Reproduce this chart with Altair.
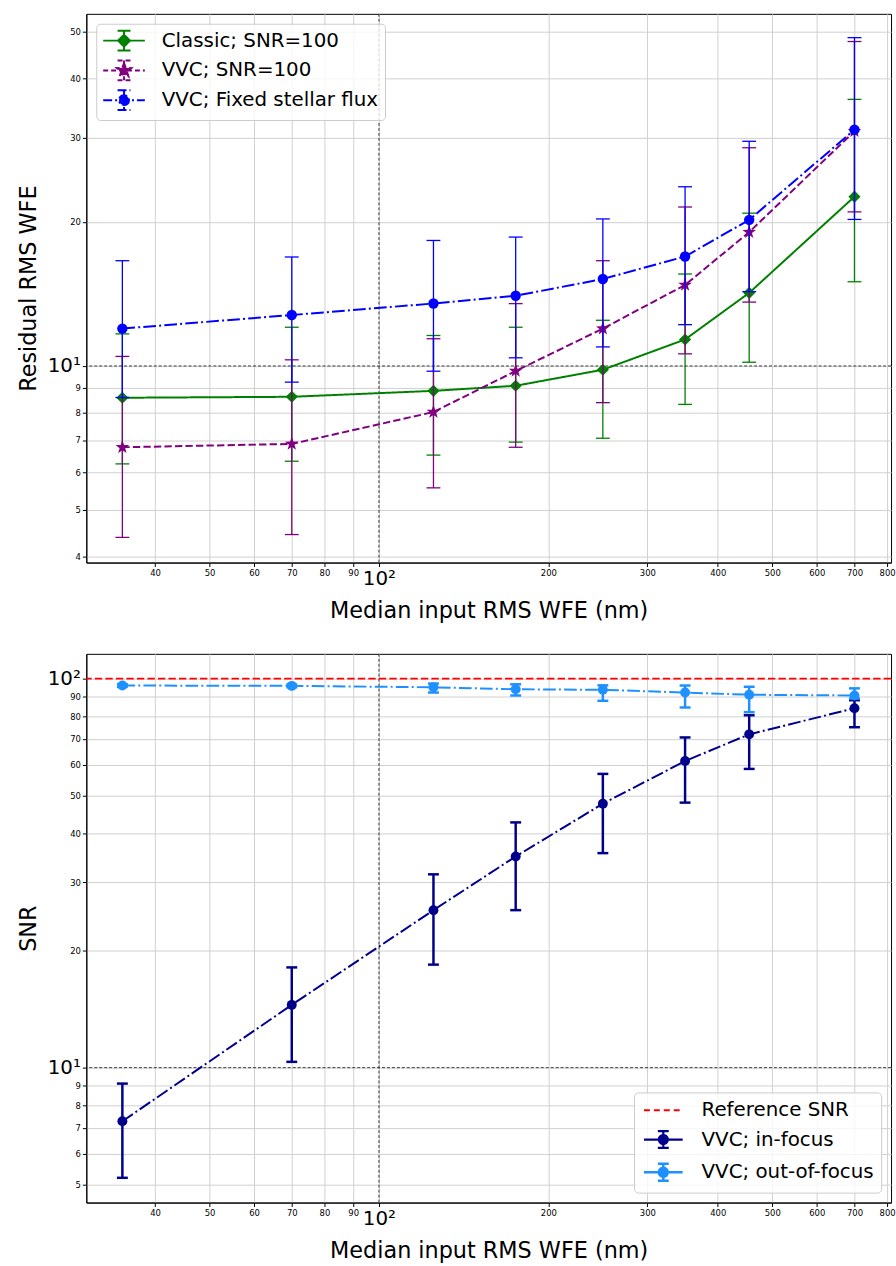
import math
import altair as alt
import pandas as pd

# Median input RMS wavefront error (nm) for each simulation bin
wfe_nm = [35, 70, 125, 175, 250, 350, 455, 700]

# Upper panel: residual RMS WFE (median and spread)
classic_snr100 = [8.58, 8.62, 8.87, 9.09, 9.82, 11.36, 14.22, 22.6]
classic_snr100_lo = [6.24, 6.32, 6.51, 6.93, 7.06, 8.31, 10.18, 15.0]
classic_snr100_hi = [11.67, 12.05, 11.58, 12.05, 12.46, 15.57, 20.87, 36.1]

vvc_snr100 = [6.76, 6.87, 8.01, 9.76, 11.97, 14.77, 19.05, 30.97]
vvc_snr100_lo = [4.38, 4.44, 5.56, 6.76, 8.38, 10.6, 13.6, 21.0]
vvc_snr100_hi = [10.47, 10.3, 11.4, 13.5, 16.6, 21.5, 28.6, 47.7]

vvc_fixed = [11.97, 12.78, 13.51, 14.02, 15.2, 16.94, 20.21, 31.2]
vvc_fixed_lo = [8.59, 9.25, 9.75, 10.4, 10.96, 12.2, 14.3, 20.25]
vvc_fixed_hi = [16.6, 16.9, 18.3, 18.6, 20.3, 23.7, 29.5, 48.6]

# Lower panel: SNR for the fixed-flux VVC runs
snr_in = [7.28, 14.5, 25.4, 34.9, 47.7, 61.4, 71.9, 83.9]
snr_in_lo = [5.21, 10.35, 18.4, 25.4, 35.6, 48.0, 58.6, 75.0]
snr_in_hi = [9.1, 18.1, 31.4, 42.7, 56.9, 70.6, 80.5, 88.0]

snr_out = [96.0, 95.8, 95.0, 93.9, 93.6, 92.1, 90.9, 90.5]
snr_out_lo = [95.2, 95.0, 92.1, 90.5, 87.7, 84.3, 82.0, 88.9]
snr_out_hi = [96.8, 96.6, 97.1, 96.7, 96.1, 96.0, 95.3, 94.4]

reference_snr = [100]

top_names = ["Classic; SNR=100", "VVC; SNR=100", "VVC; Fixed stellar flux"]
top_colors = ["green", "purple", "blue"]
bot_names = ["Reference SNR", "VVC; in-focus", "VVC; out-of-focus"]
bot_colors = ["red", "darkblue", "dodgerblue"]

x_ticks = [40, 50, 60, 70, 80, 90, 100, 200, 300, 400, 500, 600, 700, 800]
top_y_ticks = [4, 5, 6, 7, 8, 9, 10, 20, 30, 40, 50]
bot_y_ticks = [5, 6, 7, 8, 9, 10, 20, 30, 40, 50, 60, 70, 80, 90, 100]

x_domain = [30.2, 813]
top_y_domain = [3.88, 54.5]
bot_y_domain = [4.5, 115.8]

DASHED = [7.4, 3.2]
DASHDOT = [12.8, 3.2, 2, 3.2]
SOLID = [1, 0]


def star_path(r_out, r_in):
    pts = []
    for k in range(10):
        r = r_out if k % 2 == 0 else r_in
        ang = math.pi / 2 + k * math.pi / 5
        pts.append((r * math.cos(ang), -r * math.sin(ang)))
    return "M" + "L".join(f"{x:.3f},{y:.3f}" for x, y in pts) + "Z"


def circle_path(r):
    return f"M{r},0A{r},{r} 0 1,1 {-r},0A{r},{r} 0 1,1 {r},0Z"


def series_frame(centers, lows, highs):
    return pd.DataFrame({"wfe": wfe_nm, "value": centers, "lo": lows, "hi": highs})


def label_expr():
    return ("datum.value == 100 ? '10²' : datum.value == 10 ? '10¹' : "
            "format(datum.value, 'd')")


def big_small(test):
    return {"condition": {"test": test, "value": 20}, "value": 8.5}


x_axis = alt.Axis(values=x_ticks, labelExpr=label_expr(),
                  labelFontSize=big_small("datum.value == 100"),
                  labelBaseline="top", title="Median input RMS WFE (nm)",
                  titlePadding=11)
x_scale = alt.Scale(type="log", domain=x_domain, nice=False)


def y_axis(ticks, title):
    return alt.Axis(values=ticks, labelExpr=label_expr(),
                    labelFontSize=big_small("datum.value == 10 || datum.value == 100"),
                    title=title, titlePadding=7)


def series_layers(df, color, dash, shape, size, yscale, yax, err_w, cap, line_w):
    base = alt.Chart(df)
    xenc = alt.X("wfe:Q", scale=x_scale, axis=x_axis)
    y_of = lambda f: alt.Y(f"{f}:Q", scale=yscale, axis=yax)
    bars = base.mark_rule(strokeWidth=err_w, color=color).encode(
        x=xenc, y=y_of("lo"), y2="hi:Q")
    cap_lo = base.mark_tick(orient="horizontal", size=cap, thickness=err_w,
                            color=color, opacity=1).encode(x=xenc, y=y_of("lo"))
    cap_hi = base.mark_tick(orient="horizontal", size=cap, thickness=err_w,
                            color=color, opacity=1).encode(x=xenc, y=y_of("hi"))
    line = base.mark_line(strokeWidth=line_w, color=color, strokeDash=dash).encode(
        x=xenc, y=y_of("value"))
    pts = base.mark_point(filled=True, opacity=1, color=color, shape=shape,
                          size=size).encode(x=xenc, y=y_of("value"))
    return [bars, cap_lo, cap_hi, line, pts]


def legend_layer(names, colors, paths, dashes, widths, orient, row_pad, pad):
    df = pd.DataFrame({"series": names})
    leg = alt.Legend(
        title=None, orient=orient, offset=10, labelFontSize=20, labelLimit=500,
        symbolSize=400, symbolOffset=11, labelOffset=27, rowPadding=row_pad, padding=pad,
        fillColor="rgba(255,255,255,0.8)", strokeColor="#cccccc", cornerRadius=4,
        symbolOpacity=1, labelColor="black",
    )
    return alt.Chart(df).transform_filter("false").mark_point(
        filled=True, opacity=1, size=400).encode(
        shape=alt.Shape("series:N", scale=alt.Scale(domain=names, range=paths),
                        legend=leg, title=None),
        fill=alt.Fill("series:N", scale=alt.Scale(domain=names, range=colors),
                      legend=leg, title=None),
        stroke=alt.Stroke("series:N", scale=alt.Scale(domain=names, range=colors),
                          legend=leg, title=None),
        strokeDash=alt.StrokeDash("series:N", scale=alt.Scale(domain=names, range=dashes),
                                  legend=leg, title=None),
        strokeWidth=alt.StrokeWidth("series:N", scale=alt.Scale(domain=names, range=widths),
                                    legend=leg, title=None),
    )


def guides(yscale, yax):
    gx = alt.Chart(pd.DataFrame({"v": [100]})).mark_rule(
        color="#111111", strokeWidth=0.8, strokeDash=[3, 2]).encode(
        x=alt.X("v:Q", scale=x_scale, axis=x_axis))
    gy = alt.Chart(pd.DataFrame({"v": [10]})).mark_rule(
        color="#111111", strokeWidth=0.8, strokeDash=[3, 2]).encode(
        y=alt.Y("v:Q", scale=yscale, axis=yax))
    return [gx, gy]


# ---------- upper panel ----------
yscale_t = alt.Scale(type="log", domain=top_y_domain, nice=False)
yax_t = y_axis(top_y_ticks, "Residual RMS WFE")

top_layers = guides(yscale_t, yax_t)
top_series = [
    (series_frame(classic_snr100, classic_snr100_lo, classic_snr100_hi),
     top_colors[0], SOLID, "diamond", 150),
    (series_frame(vvc_snr100, vvc_snr100_lo, vvc_snr100_hi),
     top_colors[1], DASHED, star_path(1.0, 0.4), 210),
    (series_frame(vvc_fixed, vvc_fixed_lo, vvc_fixed_hi),
     top_colors[2], DASHDOT, "circle", 110),
]
for df, col, dash, shp, sz in top_series:
    top_layers += series_layers(df, col, dash, shp, sz, yscale_t, yax_t,
                                err_w=1.3, cap=14, line_w=2)

ERR = "M0,-1L0,1M-0.65,-1L0.65,-1M-0.65,1L0.65,1"
top_paths = [
    "M-2.1,0L2.1,0" + ERR + "M0,-0.6L0.6,0L0,0.6L-0.6,0Z",
    "M-2.1,0L2.1,0" + ERR + star_path(0.75, 0.3),
    "M-2.1,0L2.1,0" + ERR + circle_path(0.5),
]
top_layers.append(legend_layer(top_names, top_colors, top_paths,
                               [SOLID, [5, 3], [9, 3, 2, 3]], [2, 2, 2],
                               "top-left", 2, 6))
top = alt.layer(*top_layers).properties(width=811, height=553)

# ---------- lower panel ----------
yscale_b = alt.Scale(type="log", domain=bot_y_domain, nice=False)
yax_b = y_axis(bot_y_ticks, "SNR")

bot_layers = guides(yscale_b, yax_b)
bot_layers.append(
    alt.Chart(pd.DataFrame({"value": reference_snr})).mark_rule(
        strokeWidth=2, strokeDash=DASHED, color=bot_colors[0]).encode(
        y=alt.Y("value:Q", scale=yscale_b, axis=yax_b)))
bot_series = [
    (series_frame(snr_in, snr_in_lo, snr_in_hi), bot_colors[1]),
    (series_frame(snr_out, snr_out_lo, snr_out_hi), bot_colors[2]),
]
for df, col in bot_series:
    bot_layers += series_layers(df, col, DASHDOT, "circle", 100, yscale_b, yax_b,
                                err_w=2.5, cap=11, line_w=2)

ERR_B = "M0,-0.85L0,0.85M-0.55,-0.85L0.55,-0.85M-0.55,0.85L0.55,0.85"
bot_paths = [
    "M-1.95,0L1.95,0",
    "M-1.95,0L1.95,0" + ERR_B + circle_path(0.45),
    "M-1.95,0L1.95,0" + ERR_B + circle_path(0.45),
]
bot_layers.append(legend_layer(bot_names, bot_colors, bot_paths,
                               [[6, 4], SOLID, SOLID], [2, 2.5, 2.5],
                               "bottom-right", 6, 7))
bottom = alt.layer(*bot_layers).properties(width=811, height=553)

chart = alt.vconcat(top, bottom, spacing=31).resolve_scale(
    x="independent", y="independent", shape="independent", fill="independent",
    stroke="independent", strokeDash="independent", strokeWidth="independent",
).properties(
    padding={"left": 17, "top": 8, "right": 0, "bottom": 0}
).configure(
    font="DejaVu Sans"
).configure_view(
    stroke="black", strokeWidth=1
).configure_axis(
    gridColor="#d0d0d0", gridWidth=1, domainColor="black", tickColor="black",
    labelColor="black", titleColor="black", titleFontWeight="normal",
    titleFontSize=22.5, tickSize=4, labelPadding=2, domainWidth=1,
)

chart.save("out.html", embed_options={"renderer": "svg", "actions": False})
